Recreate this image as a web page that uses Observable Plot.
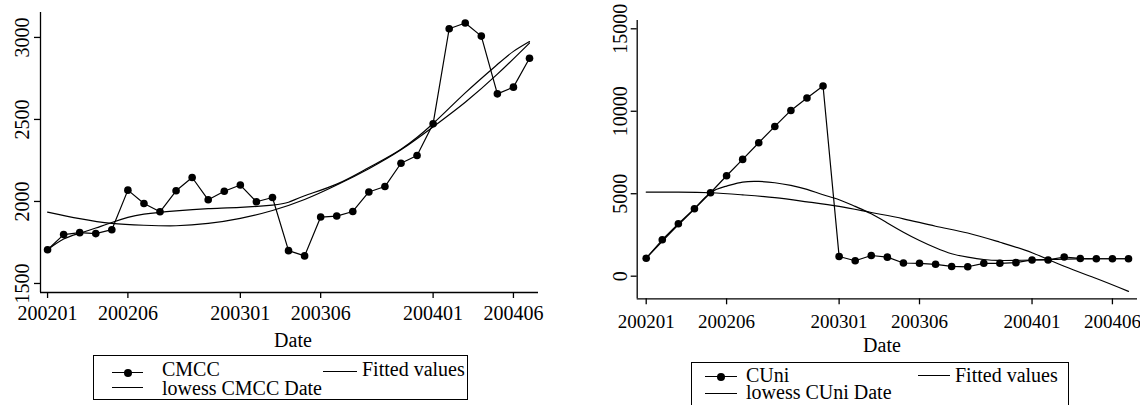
<!DOCTYPE html>
<html><head><meta charset="utf-8">
<script src="https://cdn.jsdelivr.net/npm/d3@7"></script>
<script src="https://cdn.jsdelivr.net/npm/@observablehq/plot@0.6"></script>
<style>
body{margin:0;background:#fff;font-family:"Liberation Serif","Times New Roman",serif;color:#000}
#wrap{position:relative;width:1140px;height:405px;overflow:hidden;background:#fff}
.panel{position:absolute;top:0}
svg text{font-family:"Liberation Serif","Times New Roman",serif !important}
.abs{position:absolute;white-space:nowrap;font-size:20px;line-height:16px}
.box{position:absolute;border:1.3px solid #000;box-sizing:border-box}
.ln{position:absolute;height:0;border-top:1.3px solid #000}
.dot{position:absolute;width:8px;height:8px;border-radius:50%;background:#000}
</style></head>
<body><div id="wrap"></div>
<script>
// ---- data ----
const months = ["200201","200202","200203","200204","200205","200206","200207","200208","200209","200210","200211","200212",
  "200301","200302","200303","200304","200305","200306","200307","200308","200309","200310","200311","200312",
  "200401","200402","200403","200404","200405","200406","200407"];
const xTickLabels = ["200201","200206","200301","200306","200401","200406"];

const cmcc = [1706,1798,1810,1804,1828,2069,1988,1937,2065,2146,2010,2062,
  2100,1998,2024,1700,1668,1905,1911,1939,2058,2091,2233,2280,
  2474,3053,3088,3008,2656,2697,2873];
const cmccFitMonths = ["200201","200203","200205","200207","200209","200211","200301","200303","200305","200307","200309","200311","200401","200403","200405","200407"];
const cmccFit = [1935,1895,1866,1855,1852,1866,1897,1945,2012,2100,2200,2315,2455,2605,2776,2966];
const cmccLowMonths = ["200201","200202","200203","200204","200205","200206","200207","200209","200211","200301","200303","200304","200305","200307","200309","200311","200401","200403","200405","200406","200407"];
const cmccLow = [1706,1771,1806,1838,1872,1903,1923,1943,1956,1964,1978,1995,2035,2106,2207,2318,2475,2662,2835,2915,2975];
const cmccYTicks = [1500,2000,2500,3000];

const cuni = [1092,2208,3180,4090,5060,6092,7080,8090,9080,10050,10800,11530,
  1195,935,1256,1153,800,780,720,590,570,780,780,820,
  985,985,1165,1075,1056,1056,1056];
const cuniFitMonths = ["200201","200203","200205","200207","200209","200211","200301","200303","200305","200307","200309","200311","200401","200403","200405","200407"];
const cuniFit = [5100,5095,5060,4930,4760,4510,4230,3860,3480,3030,2620,2060,1420,600,-140,-920];
const cuniLowMonths = ["200201","200202","200203","200204","200205","200206","200207","200208","200209","200210","200211","200212",
  "200301","200302","200303","200304","200305","200306","200307","200308","200309","200310","200311","200312",
  "200401","200402","200403","200404","200405","200406","200407"];
const cuniLow = [1092,2120,3120,4080,5060,5461,5704,5746,5667,5504,5261,4939,
  4636,4230,3786,3230,2670,2166,1723,1359,1153,1013,953,960,
  980,1013,1040,1050,1056,1056,1056];
const cuniYTicks = [0,5000,10000,15000];

// ---- drawing ----
const idx = m => months.indexOf(m);
const pts = vals => vals.map((v,i)=>({t:i, v}));
const pairs = (ms, vals) => ms.map((m,i)=>({t: idx(m), v: vals[i]}));
const xTicks = xTickLabels.map(idx);
const FONT = "Liberation Serif, Times New Roman, serif";

function panel({series, fit, low, yTicks, xDomain, yDomain, width, height, ml, mr, mt, mb, tickPad, yLabDx, xFont}){
  return Plot.plot({
    width, height, marginLeft: ml, marginRight: mr, marginTop: mt, marginBottom: mb,
    x: {domain: xDomain, axis: null},
    y: {domain: yDomain, axis: null},
    style: {fontFamily: FONT, fontSize: "20px", color: "#000", background: "#fff", overflow: "visible"},
    marks: [
      Plot.ruleX([xDomain[0]], {stroke: "#000", strokeWidth: 1.3}),
      Plot.ruleY([yDomain[0]], {stroke: "#000", strokeWidth: 1.3}),
      Plot.axisX({ticks: xTicks, tickFormat: d => xTickLabels[xTicks.indexOf(d)], tickSize: 6, tickPadding: tickPad, label: null, fontSize: xFont, fontFamily: FONT, strokeWidth: 1.3}),
      Plot.axisY({ticks: yTicks, tickFormat: () => "", tickSize: 6, label: null, strokeWidth: 1.3}),
      Plot.text(yTicks, {y: d => d, text: d => String(d), frameAnchor: "left", dx: yLabDx, rotate: -90, textAnchor: "middle", lineAnchor: "middle", fontSize: 20, fontFamily: FONT, fill: "#000"}),
      Plot.line(fit, {x: "t", y: "v", curve: "natural", stroke: "#000", strokeWidth: 1.2}),
      Plot.line(low, {x: "t", y: "v", curve: "natural", stroke: "#000", strokeWidth: 1.2}),
      Plot.line(series, {x: "t", y: "v", stroke: "#000", strokeWidth: 1.2}),
      Plot.dot(series, {x: "t", y: "v", r: 3.8, fill: "#000", stroke: "none"})
    ]
  });
}

const wrap = document.getElementById("wrap");

const left = panel({
  series: pts(cmcc), fit: pairs(cmccFitMonths, cmccFit), low: pairs(cmccLowMonths, cmccLow),
  yTicks: cmccYTicks, xDomain: [-0.44, 30.56], yDomain: [1445, 3152],
  width: 570, height: 345, ml: 40, mr: 32, mt: 12, mb: 53, tickPad: 7, yLabDx: -18, xFont: 20
});
left.classList.add("panel"); left.style.left = "0px";
wrap.appendChild(left);

const right = panel({
  series: pts(cuni), fit: pairs(cuniFitMonths, cuniFit), low: pairs(cuniLowMonths, cuniLow),
  yTicks: cuniYTicks, xDomain: [-0.56, 30.56], yDomain: [-1371, 15503],
  width: 570, height: 350, ml: 66.7, mr: 3, mt: 20, mb: 51.7, tickPad: 10, yLabDx: -16.5, xFont: 19
});
right.classList.add("panel"); right.style.left = "570px";
wrap.appendChild(right);

function addText(txt, x, baseline, center){
  const d = document.createElement("div");
  d.className = "abs"; d.textContent = txt;
  d.style.top = (baseline - 14.3) + "px";
  d.style.left = x + "px";
  if (center) d.style.transform = "translateX(-50%)";
  wrap.appendChild(d);
}
function addLine(x1, x2, y){
  const d = document.createElement("div"); d.className = "ln";
  d.style.left = x1 + "px"; d.style.width = (x2 - x1) + "px"; d.style.top = (y - 0.65) + "px";
  wrap.appendChild(d);
}
function addDot(cx, cy){
  const d = document.createElement("div"); d.className = "dot";
  d.style.left = (cx - 4) + "px"; d.style.top = (cy - 4) + "px";
  wrap.appendChild(d);
}
function addBox(x, y, w, h){
  const d = document.createElement("div"); d.className = "box";
  d.style.left = x + "px"; d.style.top = y + "px"; d.style.width = w + "px"; d.style.height = h + "px";
  wrap.appendChild(d);
}

// x titles
addText("Date", 293, 346.5, true);
addText("Date", 882, 351.5, true);

// left legend
addBox(93, 355, 375, 45);
addLine(112, 143, 373); addDot(127.5, 373);
addText("CMCC", 162, 375);
addLine(323, 357, 372);
addText("Fitted values", 362, 375);
addLine(112, 143, 388);
addText("lowess CMCC Date", 162, 394);

// right legend
addBox(691, 362, 378, 60);
addLine(705, 737, 377); addDot(721, 377);
addText("CUni", 746, 381.5);
addLine(918, 950, 376);
addText("Fitted values", 955, 381.5);
addLine(705, 737, 394);
addText("lowess CUni Date", 746, 398);
</script></body></html>
